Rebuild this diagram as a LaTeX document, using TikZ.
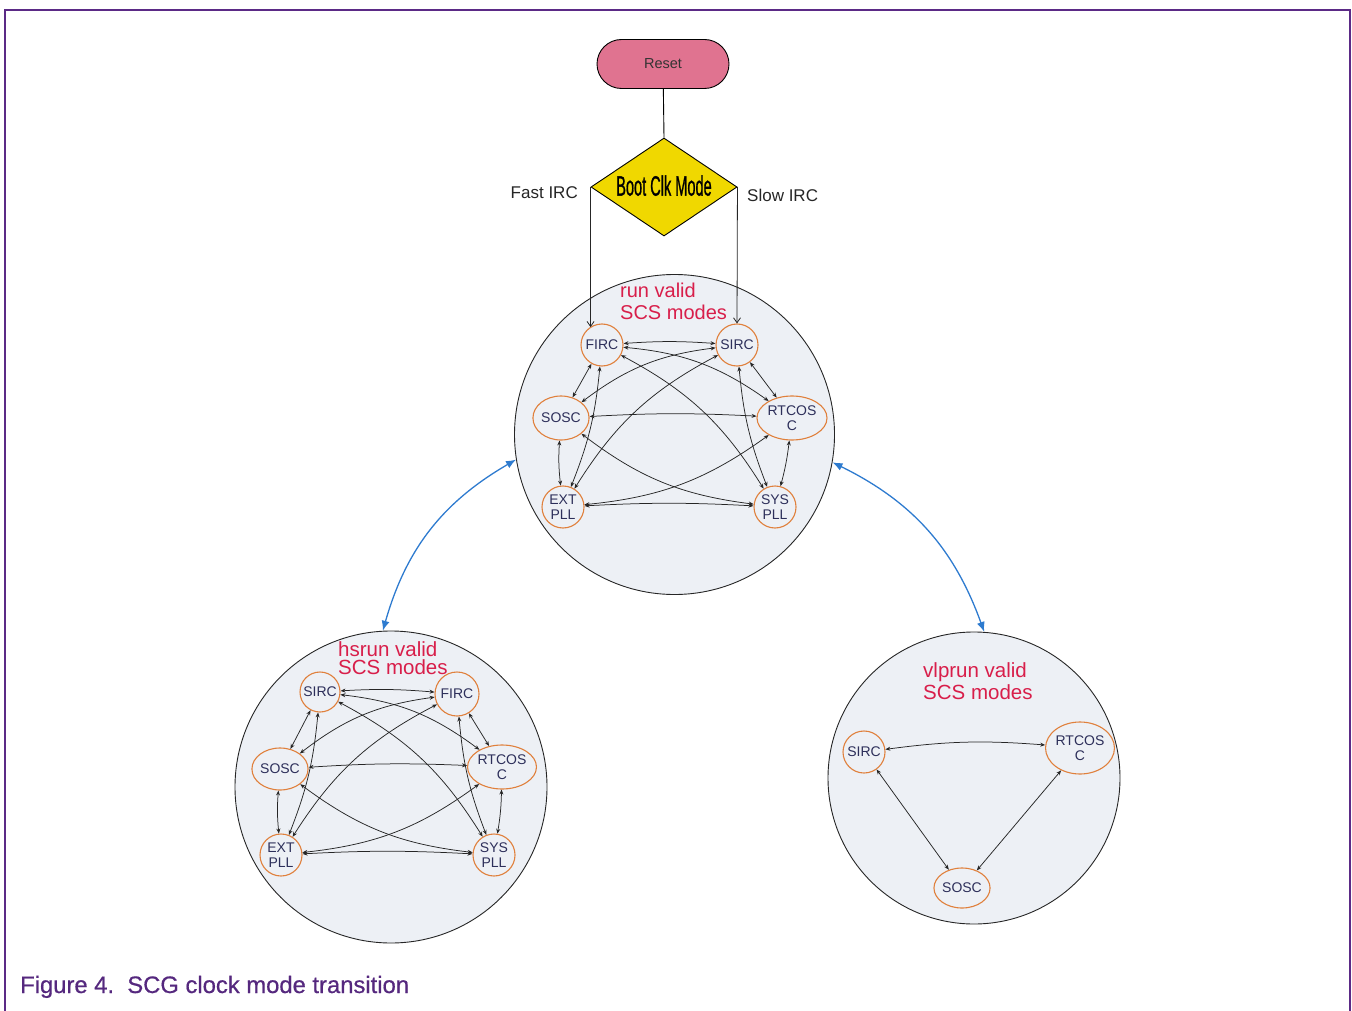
\documentclass[tikz,border=0pt]{standalone}
\usepackage{fontspec}
\usepackage{graphicx}
\setmainfont{Liberation Sans}
\newfontfamily\capfont[FakeBold=0.6]{Liberation Sans}
\newfontfamily\bootfont[FakeBold=1.2]{Liberation Sans}
\usetikzlibrary{arrows.meta,shapes.geometric,shapes.misc}
\definecolor{framec}{HTML}{5B2A86}
\definecolor{capc}{HTML}{55287E}
\definecolor{bigfill}{HTML}{EDF0F5}
\definecolor{nodeor}{HTML}{E0803C}
\definecolor{ntext}{HTML}{2D2F5A}
\definecolor{redt}{HTML}{D81E4A}
\definecolor{bluea}{HTML}{2E7BCF}
\definecolor{resetc}{HTML}{E07390}
\definecolor{diac}{HTML}{F0D800}
\definecolor{edgec}{HTML}{262626}
\tikzset{
  bigc/.style={circle, draw=black!85, line width=0.9pt, fill=bigfill, inner sep=0pt},
  clk/.style={circle, draw=nodeor, line width=1.1pt, fill=bigfill, inner sep=0pt,
    minimum size=42pt, text=ntext, align=center, font=\fontsize{14}{14.5}\selectfont},
  clke/.style={ellipse, draw=nodeor, line width=1.1pt, fill=bigfill, inner sep=0pt,
    text=ntext, align=center, font=\fontsize{14}{14.5}\selectfont},
  edge/.style={draw=edgec, line width=0.75pt, {Stealth[length=5pt,width=4pt]}-{Stealth[length=5pt,width=4pt]}},
  blueedge/.style={draw=bluea, line width=1.3pt, {Latex[length=10pt,width=8pt]}-{Latex[length=10pt,width=8pt]}},
  title/.style={text=redt, align=left, inner sep=0pt, anchor=north west},
  lbl/.style={text=black!85, font=\fontsize{17}{17}\selectfont, inner sep=0pt}
}
\newcommand\ksix[1]{%
  \draw[edge] (#1a) to[bend left=4] (#1b);
  \draw[edge] (#1a) -- (#1c);
  \draw[edge] (#1a) to[bend left=8] (#1e);
  \draw[edge] (#1a) to[bend left=15] (#1d);
  \draw[edge] (#1a) to[bend left=15] (#1f);
  \draw[edge] (#1b) to[bend right=15] (#1c);
  \draw[edge] (#1b) to[bend right=15] (#1e);
  \draw[edge] (#1b) -- (#1d);
  \draw[edge] (#1b) to[bend right=8] (#1f);
  \draw[edge] (#1c) to[bend left=3] (#1d);
  \draw[edge] (#1c) to[bend right=5] (#1e);
  \draw[edge] (#1c) to[bend right=15] (#1f);
  \draw[edge] (#1d) to[bend left=15] (#1e);
  \draw[edge] (#1d) to[bend left=4] (#1f);
  \draw[edge] (#1e) to[bend left=3] (#1f);
}
\begin{document}
\begin{tikzpicture}[x=1pt,y=-1pt]
\useasboundingbox (0,0) rectangle (1352,1011);
\draw[framec, line width=2.5pt] (5,1011) -- (5,10) -- (1350,10) -- (1350,1011);

% big circles
\node[bigc, minimum size=320pt] (run) at (674.5,434.5) {};
\node[bigc, minimum size=312pt] (hs) at (391,787) {};
\node[bigc, minimum size=292pt] (vl) at (974,778) {};

% blue arrows
\draw[blueedge] (run.189.7) to[bend right=22] (hs.93.2);
\draw[blueedge] (run.350) to[bend left=22] (vl.86.4);

% reset and diamond
\node[rounded rectangle, draw=black, line width=0.9pt, fill=resetc, minimum width=132pt,
  minimum height=49pt, inner sep=0pt, text=black!80, font=\fontsize{14.5}{15}\selectfont] (reset) at (663,64) {Reset};
\node[diamond, aspect=1.5, draw=black, line width=0.9pt, fill=diac, minimum width=146pt,
  minimum height=98pt, inner sep=0pt, font=\bootfont\fontsize{28}{28}\selectfont] (dia) at (664,187)
  {\raisebox{3pt}{\scalebox{0.52}[1]{Boot Clk Mode}}};
\draw[black, line width=0.9pt] (reset) -- (dia.north);
\node[lbl, anchor=base east] (fast) at (578,199) {Fast IRC};
\node[lbl, anchor=base west] (slow) at (747,202) {Slow IRC};

% run
\node[title, font=\fontsize{20}{22}\selectfont] (runt) at (620,283) {run valid\\SCS modes};
\node[clk] (ra) at (602,345) {FIRC};
\node[clk] (rb) at (737,345) {SIRC};
\node[clke, minimum width=56pt, minimum height=44pt] (rc) at (561,418) {SOSC};
\node[clke, minimum width=70pt, minimum height=44pt] (rd) at (792,418) {RTCOS\\C};
\node[clk] (re) at (563,507) {EXT\\PLL};
\node[clk] (rf) at (775,507) {SYS\\PLL};
\ksix{r}
\draw[draw=edgec, line width=0.8pt, -{Straight Barb[length=5pt,width=7pt]}] (dia.west) -- (dia.west |- ra.124);
\draw[draw=edgec, line width=0.8pt, -{Straight Barb[length=5pt,width=7pt]}] (dia.east) -- (rb.north);

% hsrun
\node[title, font=\fontsize{20.5}{18}\selectfont] (hst) at (338,641) {hsrun valid\\SCS modes};
\node[clk, minimum size=40pt] (ha) at (320,692) {SIRC};
\node[clk, minimum size=44pt] (hb) at (457,694) {FIRC};
\node[clke, minimum width=48pt, minimum height=42pt] (hc) at (280,769) {SOSC};
\node[clke, minimum width=56pt, minimum height=44pt] (hd) at (502,767) {RTCOS\\C};
\node[clk] (he) at (281,855) {EXT\\PLL};
\node[clk] (hf) at (494,855) {SYS\\PLL};
\ksix{h}

% vlprun
\node[title, font=\fontsize{20.5}{22}\selectfont] (vlt) at (923,662) {vlprun valid\\SCS modes};
\node[clk] (va) at (864,752) {SIRC};
\node[clke, minimum width=56pt, minimum height=52pt] (vb) at (1080,748) {RTCOS\\C};
\node[clke, minimum width=56pt, minimum height=40pt] (vc) at (962,888) {SOSC};
\draw[edge] (va) to[bend left=6] (vb);
\draw[edge] (va) -- (vc);
\draw[edge] (vb) -- (vc);

% caption
\node[anchor=base west, inner sep=0pt, text=capc, font=\capfont\fontsize{23.8}{24}\selectfont] (cap) at (20,993)
  {Figure 4.\ \ SCG clock mode transition};
\end{tikzpicture}
\end{document}
